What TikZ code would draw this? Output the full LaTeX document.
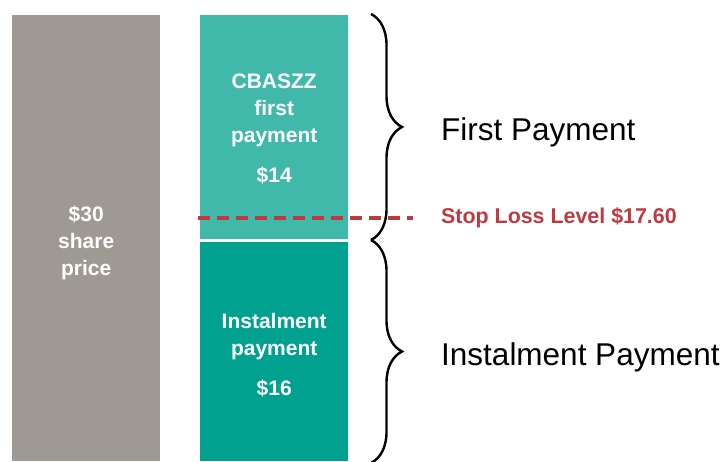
\documentclass[tikz,border=0pt]{standalone}
\usepackage{fontspec}
\setmainfont{Liberation Sans}
\usetikzlibrary{positioning,decorations.pathreplacing}

\definecolor{sharegrey}{RGB}{158,153,146}
\definecolor{firstteal}{RGB}{64,185,170}
\definecolor{instteal}{RGB}{0,161,143}
\definecolor{stopred}{RGB}{192,57,65}

\begin{document}
\begin{tikzpicture}[x=1pt, y=1pt,
    bar/.style={anchor=south west, inner sep=0pt, minimum width=148pt,
        text=white, align=center, font=\bfseries\fontsize{21}{27}\selectfont},
    bracket/.style={decorate, decoration={brace, amplitude=31pt}, line width=2.4pt},
    label/.style={inner sep=0pt, anchor=west, font=\fontsize{31.5}{36}\selectfont}]

    \useasboundingbox (0,0) rectangle (727,461);

    % Bars
    \node[bar, fill=sharegrey, minimum height=446pt] (share) at (12,0)
        {\mbox{}\\[-2pt]\$30\\share\\price};
    \node[bar, fill=firstteal, minimum height=224pt] (first) at (200,222)
        {\mbox{}\\[-8pt]CBASZZ\\first\\payment\\[13pt]\$14};
    \node[bar, fill=instteal, minimum height=219pt] (inst) at (200,0)
        {\mbox{}\\[-5pt]Instalment\\payment\\[13pt]\$16};

    % Stop loss line
    \coordinate (sl) at (198,243);
    \coordinate (slend) at (413,243);
    \draw[stopred, line width=4pt, dash pattern=on 12pt off 7pt] (sl) -- (slend);
    \node[inner sep=0pt, anchor=west, text=stopred,
        font=\bfseries\fontsize{21.4}{26}\selectfont] (stop) [right=28pt of slend]
        {Stop Loss Level \$17.60};

    % Braces
    \coordinate (b1) at (371,447);
    \coordinate (b2) at (371,221);
    \coordinate (b3) at (371,-2);
    \draw[bracket] (b1) -- (b2);
    \draw[bracket] (b2) -- (b3);
    \coordinate (tip1) at (402,334);
    \coordinate (tip2) at (402,109);

    \node[label, yshift=-5pt] (firstlbl) [right=39pt of tip1] {First Payment};
    \node[label, yshift=-5pt] (instlbl) [right=39pt of tip2] {Instalment Payment};

\end{tikzpicture}
\end{document}
